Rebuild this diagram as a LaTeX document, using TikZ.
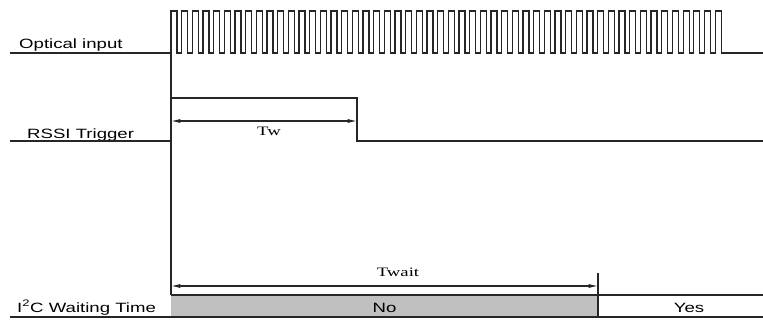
\documentclass[tikz,border=0pt]{standalone}
\usepackage{fontspec}
\setmainfont{Liberation Sans}[FakeStretch=1.38]
\newfontfamily\timesfont{Liberation Serif}[FakeStretch=1.45]
\usetikzlibrary{arrows.meta}
\definecolor{boxgray}{RGB}{192,192,192}
\tikzset{
  signal/.style={draw=black!85, line width=0.9pt},
  span/.style={black!85, line width=0.9pt, {Latex[length=8pt,width=3.5pt]}-{Latex[length=8pt,width=3.5pt]}},
  rowlabel/.style={anchor=base west, inner sep=0pt, font=\fontsize{11.5}{13}\selectfont},
  timelabel/.style={anchor=base, inner sep=0pt, font=\timesfont\fontsize{11}{12}\selectfont},
}
\begin{document}
\begin{tikzpicture}[x=0.03cm, y=-0.03cm]
  \useasboundingbox (0,0) rectangle (763,320);
  \coordinate (t0) at (171,11);
  \coordinate (tw) at (357,98);
  \coordinate (twait) at (598,273);

  \node[rowlabel] (optical) at (19,49) {Optical input};
  \node[rowlabel] (rssi) at (27,139) {RSSI Trigger};
  \node[rowlabel] (i2c) at (17,312) {I\textsuperscript{2}C Waiting Time};

  \fill[boxgray] (171,295) rectangle (598,317);
  \draw[signal] (10,53) -- (171,53)
    \foreach \i in {1,...,52} { -- ++(0,-42) -- ++(6,0) -- ++(0,42) -- ++(4.667,0) } -- (763,53);
  \draw[signal] (t0) -- (171,295);
  \draw[signal] (10,141) -- (171,141) -- (171,98) -- (tw) -- (357,141) -- (763,141);
  \draw[signal] (171,295) -- (763,295);
  \draw[signal] (10,317) -- (763,317);
  \draw[signal] (twait) -- (598,317);

  \draw[span] (171,121) -- (357,121);
  \draw[span] (171,286) -- (598,286);

  \node[timelabel] (twlabel) at (269,136) {Tw};
  \node[timelabel] (twaitlabel) at (398,276) {Twait};
  \node[rowlabel, anchor=base] (no) at (384.5,312) {No};
  \node[rowlabel, anchor=base] (yes) at (689,312) {Yes};
\end{tikzpicture}
\end{document}
